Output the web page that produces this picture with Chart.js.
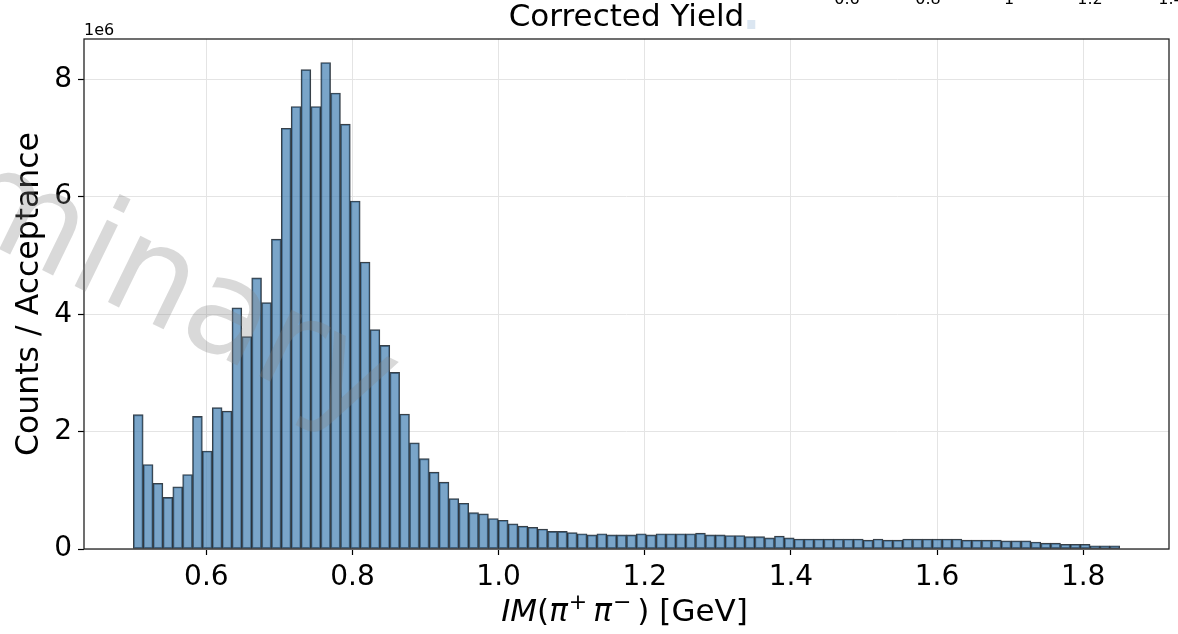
<!DOCTYPE html>
<html>
<head>
<meta charset="utf-8">
<script src="https://cdn.jsdelivr.net/npm/chart.js@4.4.0/dist/chart.umd.min.js"></script>
<style>
  html, body { margin: 0; padding: 0; background: #fff; }
  #wrap { width: 1178px; height: 634px; }
</style>
</head>
<body>
<div id="wrap"><canvas id="yieldChart" width="1178" height="634"></canvas></div>
<script>
// histogram range, 100 equal bins
const binLow = 0.5;
const binHigh = 1.85;

// corrected yield per bin, in units of 1e6
const counts = [
  2.29, 1.44, 1.12, 0.88, 1.06, 1.27, 2.26, 1.67, 2.41, 2.35,
  4.11, 3.62, 4.62, 4.20, 5.28, 7.17, 7.54, 8.17, 7.54, 8.29,
  7.77, 7.24, 5.93, 4.89, 3.74, 3.47, 3.01, 2.30, 1.81, 1.54,
  1.31, 1.14, 0.86, 0.78, 0.62, 0.60, 0.52, 0.49, 0.43, 0.39,
  0.37, 0.34, 0.30, 0.30, 0.28, 0.26, 0.24, 0.26, 0.24, 0.24,
  0.24, 0.26, 0.24, 0.26, 0.26, 0.26, 0.26, 0.27, 0.24, 0.24,
  0.23, 0.23, 0.21, 0.21, 0.19, 0.22, 0.19, 0.17, 0.17, 0.17,
  0.17, 0.17, 0.17, 0.17, 0.15, 0.17, 0.15, 0.15, 0.17, 0.17,
  0.17, 0.17, 0.17, 0.17, 0.15, 0.15, 0.15, 0.15, 0.14, 0.14,
  0.14, 0.12, 0.10, 0.10, 0.08, 0.08, 0.08, 0.056, 0.056, 0.056
];

const xTicks = [0.6, 0.8, 1.0, 1.2, 1.4, 1.6, 1.8];
const yTicks = [0, 2, 4, 6, 8];
const strayTicks = ['0.6', '0.8', '1', '1.2', '1.4'];   // cut-off labels at the top edge

// x label pieces: [text, italic, superscript]
const xLabelParts = [
  ['IM', true, false], ['(', false, false], ['π', true, false], ['+', false, true],
  ['π', true, false], ['−', false, true], [')', false, false], [' [GeV]', false, false]
];

const binWidth = (binHigh - binLow) / counts.length;
const points = counts.map((v, i) => ({ x: binLow + (i + 0.5) * binWidth, y: v }));

const FONT = "'DejaVu Sans', sans-serif";

function drawXLabel(ctx, cx, baseline) {
  const size = 31, supSize = 22;
  const fontFor = p => (p[1] ? 'italic ' : '') + (p[2] ? supSize : size) + 'px ' + FONT;
  let total = 0;
  const widths = xLabelParts.map(p => {
    ctx.font = fontFor(p);
    const w = ctx.measureText(p[0]).width + (p[2] ? 7 : 0);
    total += w;
    return w;
  });
  let x = cx - total / 2;
  ctx.textAlign = 'left';
  ctx.textBaseline = 'alphabetic';
  xLabelParts.forEach((p, i) => {
    ctx.font = fontFor(p);
    ctx.fillText(p[0], x + (p[2] ? 1 : 0), p[2] ? baseline - 12 : baseline);
    x += widths[i];
  });
}

// frame, title, offset text, x label, watermark
const decorations = {
  id: 'decorations',
  afterDraw(chart) {
    const { ctx, chartArea: a } = chart;
    ctx.save();

    ctx.strokeStyle = '#222';
    ctx.lineWidth = 1.3;
    ctx.strokeRect(a.left, a.top, a.right - a.left, a.bottom - a.top);

    ctx.fillStyle = '#000';
    ctx.font = '31px ' + FONT;
    ctx.textAlign = 'center';
    ctx.textBaseline = 'middle';
    const cx = (a.left + a.right) / 2;
    ctx.fillText('Corrected Yield', cx, 18);
    const tw = ctx.measureText('Corrected Yield').width;
    ctx.fillStyle = '#dbe6f1';
    ctx.fillRect(cx + tw / 2 + 3, 20, 8, 9);

    ctx.fillStyle = '#000';
    drawXLabel(ctx, cx - 2, 621);

    ctx.font = '16px ' + FONT;
    ctx.textAlign = 'left';
    ctx.textBaseline = 'alphabetic';
    ctx.fillText('1e6', a.left, a.top - 4);

    ctx.textAlign = 'center';
    strayTicks.forEach((t, i) => ctx.fillText(t, 847 + i * 81, 4));

    ctx.translate(370, 430);
    ctx.rotate(26 * Math.PI / 180);
    ctx.font = '135px ' + FONT;
    ctx.textAlign = 'right';
    ctx.fillStyle = 'rgba(128,128,128,0.3)';
    ctx.fillText('Preliminary', 0, 0);
    ctx.restore();
  }
};

new Chart(document.getElementById('yieldChart'), {
  type: 'bar',
  data: {
    datasets: [{
      data: points,
      backgroundColor: 'rgba(70,130,180,0.72)',
      borderColor: 'rgba(20,30,40,0.85)',
      borderWidth: 1.2,
      borderSkipped: false,
      barPercentage: 1,
      categoryPercentage: 1
    }]
  },
  options: {
    responsive: false,
    animation: false,
    layout: { padding: { top: 39, right: 9, left: 0, bottom: 0 } },
    plugins: {
      legend: { display: false },
      tooltip: { enabled: false }
    },
    scales: {
      x: {
        type: 'linear',
        min: 0.4325,
        max: 1.9175,
        offset: false,
        afterBuildTicks: s => { s.ticks = xTicks.map(v => ({ value: v })); },
        afterFit: s => { s.height = 85; },
        grid: { offset: false, color: '#e4e4e4', lineWidth: 1, tickColor: '#000', tickLength: 6, tickWidth: 1.2 },
        border: { display: false },
        ticks: {
          color: '#000',
          font: { family: FONT, size: 28 },
          padding: 6,
          maxRotation: 0,
          callback: v => v.toFixed(1)
        }
      },
      y: {
        min: 0,
        max: 8.69,
        afterBuildTicks: s => { s.ticks = yTicks.map(v => ({ value: v })); },
        afterFit: s => { s.width = 84; },
        grid: { color: '#e4e4e4', lineWidth: 1, tickColor: '#000', tickLength: 6, tickWidth: 1.2 },
        border: { display: false },
        ticks: {
          color: '#000',
          font: { family: FONT, size: 28 },
          padding: 6,
          callback: v => String(v)
        },
        title: {
          display: true,
          text: 'Counts / Acceptance',
          color: '#000',
          font: { family: FONT, size: 31.5 },
          padding: { top: 11, bottom: 0 }
        }
      }
    }
  },
  plugins: [decorations]
});
</script>
</body>
</html>
